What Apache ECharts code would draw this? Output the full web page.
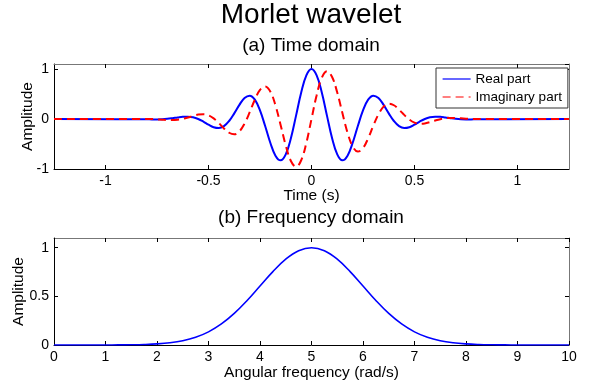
<!DOCTYPE html>
<html><head><meta charset="utf-8">
<script src="https://cdn.jsdelivr.net/npm/echarts@6/dist/echarts.min.js"></script>
<style>html,body{margin:0;padding:0;background:#fff}#c{width:591px;height:387px}</style>
</head><body><div id="c"></div>
<script>
// ---- Data ----
const timeValues = [-1.25,
  -0.8,-0.775,-0.75,-0.725,-0.7,-0.675,-0.65,-0.625,-0.6,-0.575,-0.55,-0.525,-0.5,-0.475,-0.45,-0.425,
  -0.4,-0.375,-0.35,-0.325,-0.3,-0.275,-0.25,-0.225,-0.2,-0.175,-0.15,-0.125,-0.1,-0.075,-0.05,-0.025,
  0,
  0.025,0.05,0.075,0.1,0.125,0.15,0.175,0.2,0.225,0.25,0.275,0.3,0.325,0.35,0.375,0.4,
  0.425,0.45,0.475,0.5,0.525,0.55,0.575,0.6,0.625,0.65,0.675,0.7,0.725,0.75,0.775,0.8,
  1.25];
const realPart = [0,
  -0.006,-0.008,-0.008,-0.005,0.003,0.016,0.031,0.044,0.047,0.034,0.000,-0.052,-0.114,-0.164,-0.180,-0.142,
  -0.040,0.113,0.283,0.420,0.467,0.387,0.172,-0.141,-0.475,-0.733,-0.827,-0.707,-0.384,0.068,0.530,0.873,
  1.000,
  0.873,0.530,0.068,-0.384,-0.707,-0.827,-0.733,-0.475,-0.141,0.172,0.387,0.467,0.420,0.283,0.113,-0.040,
  -0.142,-0.180,-0.164,-0.114,-0.052,0.000,0.034,0.047,0.044,0.031,0.016,0.003,-0.005,-0.008,-0.008,-0.006,
  0];
const imagPart = [0,
  0.002,-0.001,-0.007,-0.014,-0.020,-0.021,-0.014,0.003,0.030,0.062,0.089,0.097,0.074,0.012,-0.082,-0.188,
  -0.275,-0.305,-0.247,-0.092,0.136,0.385,0.582,0.652,0.550,0.275,-0.118,-0.528,-0.839,-0.954,-0.825,-0.477,
  0,
  0.477,0.825,0.954,0.839,0.528,0.118,-0.275,-0.550,-0.652,-0.582,-0.385,-0.136,0.092,0.247,0.305,0.275,
  0.188,0.082,-0.012,-0.074,-0.097,-0.089,-0.062,-0.030,-0.003,0.014,0.021,0.020,0.014,0.007,0.001,-0.002,
  0];
const omegaValues = [0,0.25,0.5,0.75,1,1.25,1.5,1.75,2,2.25,2.5,2.75,3,3.25,3.5,3.75,4,4.25,4.5,4.75,
  5,5.25,5.5,5.75,6,6.25,6.5,6.75,7,7.25,7.5,7.75,8,8.25,8.5,8.75,9,9.25,9.5,9.75,10];
const freqAmplitude = [0,0,0,0.0001,0.0003,0.0009,0.0022,0.0051,0.0111,0.0228,0.0439,0.0796,0.1353,0.2163,0.3247,0.4578,0.6065,0.7548,0.8825,0.9692,
  1.0,0.9692,0.8825,0.7548,0.6065,0.4578,0.3247,0.2163,0.1353,0.0796,0.0439,0.0228,0.0111,0.0051,0.0022,0.0009,0.0003,0.0001,0,0,0];
const timeTicks = [-1, -0.5, 0, 0.5, 1];
const seriesNames = ['Real part', 'Imaginary part'];
const titles = ['Morlet wavelet', '(a) Time domain', '(b) Frequency domain'];
const axisNames = ['Time (s)', 'Angular frequency (rad/s)', 'Amplitude'];

// ---- Chart ----
const FONT = '"Liberation Sans", Arial, Helvetica, sans-serif';
const realPairs = timeValues.map((t, i) => [t, realPart[i]]);
const imagPairs = timeValues.map((t, i) => [t, imagPart[i]]);
const freqPairs = omegaValues.map((w, i) => [w, freqAmplitude[i]]);

const tick = { show: true, inside: true, length: 4, lineStyle: { color: '#000', width: 1 } };
const labelStyle = { color: '#000', fontFamily: FONT, fontSize: 14, margin: 5 };

function mainAxis(extra) {
  return Object.assign({
    type: 'value',
    axisLine: { show: true, onZero: false, lineStyle: { color: '#000', width: 1 } },
    axisTick: tick,
    splitLine: { show: false },
    axisLabel: labelStyle,
    nameTextStyle: { color: '#000', fontFamily: FONT, fontSize: 15.5 },
    nameLocation: 'middle',
    nameMoveOverlap: false
  }, extra);
}
function mirrorAxis(extra) {
  return Object.assign({
    type: 'value',
    axisLine: { show: true, onZero: false, lineStyle: { color: '#777', width: 1 } },
    axisTick: tick,
    splitLine: { show: false },
    axisLabel: { show: false }
  }, extra);
}

const chart = echarts.init(document.getElementById('c'), null, { renderer: 'canvas' });
chart.setOption({
  backgroundColor: '#fff',
  animation: false,
  title: [
    { text: titles[0], left: 311, top: 1, padding: 0, textAlign: 'center',
      textStyle: { fontFamily: FONT, fontSize: 28, fontWeight: 'normal', color: '#000' } },
    { text: titles[1], left: 311, top: 36, padding: 0, textAlign: 'center',
      textStyle: { fontFamily: FONT, fontSize: 19, fontWeight: 'normal', color: '#000' } },
    { text: titles[2], left: 311, top: 208, padding: 0, textAlign: 'center',
      textStyle: { fontFamily: FONT, fontSize: 19, fontWeight: 'normal', color: '#000' } }
  ],
  legend: {
    data: seriesNames,
    orient: 'vertical',
    left: 436, top: 68,
    padding: [4, 6, 4, 6],
    itemGap: 4,
    itemWidth: 28, itemHeight: 14,
    backgroundColor: '#fff',
    borderColor: '#333', borderWidth: 1, borderRadius: 0,
    itemStyle: { opacity: 0 },
    lineStyle: { width: 1.2 },
    textStyle: { fontFamily: FONT, fontSize: 13.5, color: '#000' }
  },
  grid: [
    { left: 54, top: 64, width: 515, height: 105, containLabel: false },
    { left: 54, top: 238, width: 515, height: 107, containLabel: false }
  ],
  xAxis: [
    mainAxis({ gridIndex: 0, position: 'bottom', min: -1.25, max: 1.25,
      name: axisNames[0], nameGap: 19,
      axisTick: Object.assign({}, tick, { customValues: timeTicks }),
      axisLabel: Object.assign({}, labelStyle, { customValues: timeTicks }) }),
    mirrorAxis({ gridIndex: 0, position: 'top', min: -1.25, max: 1.25,
      axisTick: Object.assign({}, tick, { customValues: timeTicks }) }),
    mainAxis({ gridIndex: 1, position: 'bottom', min: 0, max: 10, interval: 1,
      name: axisNames[1], nameGap: 20 }),
    mirrorAxis({ gridIndex: 1, position: 'top', min: 0, max: 10, interval: 1 })
  ],
  yAxis: [
    mainAxis({ gridIndex: 0, position: 'left', min: -1, max: 1.1, interval: 1,
      name: axisNames[2], nameGap: 18,
      axisLabel: Object.assign({}, labelStyle, { showMaxLabel: false }) }),
    mirrorAxis({ gridIndex: 0, position: 'right', min: -1, max: 1.1, interval: 1 }),
    mainAxis({ gridIndex: 1, position: 'left', min: 0, max: 1.1, interval: 0.5,
      name: axisNames[2], nameGap: 27,
      axisLabel: Object.assign({}, labelStyle, { showMaxLabel: false }) }),
    mirrorAxis({ gridIndex: 1, position: 'right', min: 0, max: 1.1, interval: 0.5 })
  ],
  series: [
    { name: seriesNames[0], type: 'line', xAxisIndex: 0, yAxisIndex: 0, data: realPairs,
      showSymbol: false, symbol: 'none', smooth: 0.4, color: '#0000ff',
      lineStyle: { color: '#0000ff', width: 2 } },
    { name: seriesNames[1], type: 'line', xAxisIndex: 0, yAxisIndex: 0, data: imagPairs,
      showSymbol: false, symbol: 'none', smooth: 0.4, color: '#ff0000',
      lineStyle: { color: '#ff0000', width: 2, type: [8, 5] } },
    { name: 'Spectrum', type: 'line', xAxisIndex: 2, yAxisIndex: 2, data: freqPairs,
      showSymbol: false, symbol: 'none', smooth: 0.4, color: '#0000ff',
      lineStyle: { color: '#0000ff', width: 1.6 } }
  ]
});
</script>
</body></html>
